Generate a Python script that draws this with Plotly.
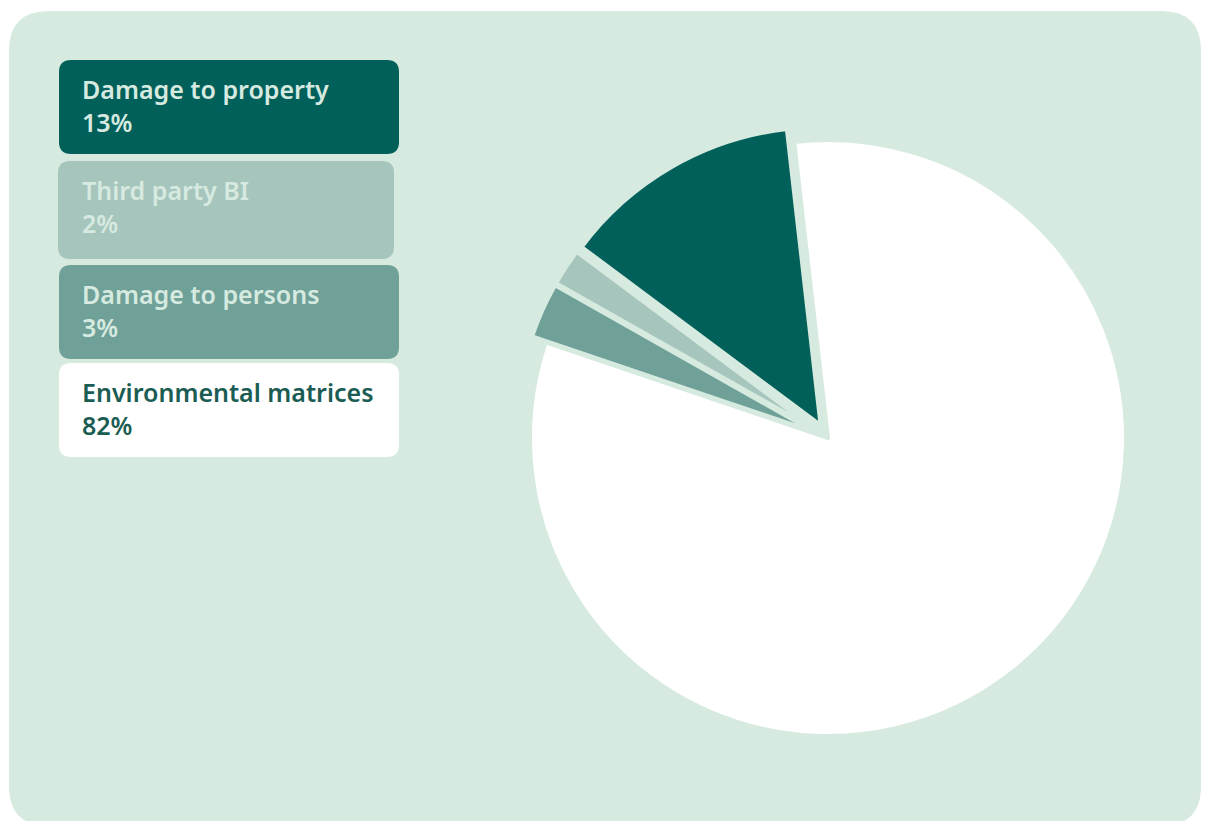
import plotly.graph_objects as go

# Claim breakdown by damage type (% of total)
categories = ["Damage to property", "Third party BI", "Damage to persons", "Environmental matrices"]
shares = [13, 2, 3, 82]
slice_colors = ["#02605a", "#a6c5bd", "#6fa199", "#ffffff"]
label_colors = ["#d6eae0", "#d6eae0", "#d6eae0", "#1b5c53"]
pulls = [0.05, 0.05, 0.05, 0.0]

PANEL = "#d6eae0"
W, H = 1205, 821


def rounded_rect(x0, y0, x1, y1, r):
    """SVG path for a rounded rectangle in data (pixel-like) coordinates."""
    return (
        f"M {x0 + r},{y0} L {x1 - r},{y0} Q {x1},{y0} {x1},{y0 + r} "
        f"L {x1},{y1 - r} Q {x1},{y1} {x1 - r},{y1} "
        f"L {x0 + r},{y1} Q {x0},{y1} {x0},{y1 - r} "
        f"L {x0},{y0 + r} Q {x0},{y0} {x0 + r},{y0} Z"
    )


fig = go.Figure()

# Pie: centre (828, 438), radius ~298 px, box includes room for pulled slices.
# With counterclockwise direction the first slice ends at `rotation`,
# so the property slice's clockwise edge sits ~6.5 deg left of 12 o'clock.
r = 298
box = 2 * r * (1 + max(pulls))
cx, cy = 828, 438
fig.add_trace(go.Pie(
    labels=categories,
    values=shares,
    sort=False,
    direction="counterclockwise",
    rotation=-6.5 - 360 * shares[0] / sum(shares),
    pull=pulls,
    marker=dict(colors=slice_colors, line=dict(color=PANEL, width=4)),
    textinfo="none",
    hoverinfo="label+percent",
    showlegend=False,
    domain=dict(
        x=[(cx - box / 2) / W, (cx + box / 2) / W],
        y=[1 - (cy + box / 2) / H, 1 - (cy - box / 2) / H],
    ),
))

shapes = [
    dict(type="path", path=rounded_rect(9, 11, 1201, 826, 40),
         fillcolor=PANEL, line=dict(width=0), layer="below",
         xref="x", yref="y"),
]

# Legend cards on the left: name on the first line, share on the second
card_boxes = [(59, 60, 399, 154), (58, 161, 394, 259), (59, 265, 399, 359), (59, 363, 399, 457)]
annotations = []
font_family = "Noto Sans, Open Sans, sans-serif"
for cat, val, col, tcol, (x0, y0, x1, y1) in zip(categories, shares, slice_colors, label_colors, card_boxes):
    shapes.append(dict(type="path", path=rounded_rect(x0, y0, x1, y1, 12),
                       fillcolor=col, line=dict(width=0), layer="below",
                       xref="x", yref="y"))
    annotations.append(dict(
        x=80, y=y0 + 45, xref="x", yref="y",
        text=f"{cat}<br>{val}%",
        showarrow=False, xanchor="left", yanchor="middle", align="left",
        font=dict(family=font_family, size=25, color=tcol, weight=600),
    ))

fig.update_layout(
    width=W, height=H,
    margin=dict(l=0, r=0, t=0, b=0),
    paper_bgcolor="#ffffff",
    plot_bgcolor="rgba(0,0,0,0)",
    xaxis=dict(range=[0, W], visible=False, fixedrange=True),
    yaxis=dict(range=[H, 0], visible=False, fixedrange=True),
    shapes=shapes,
    annotations=annotations,
)

fig.write_html("out.html")
